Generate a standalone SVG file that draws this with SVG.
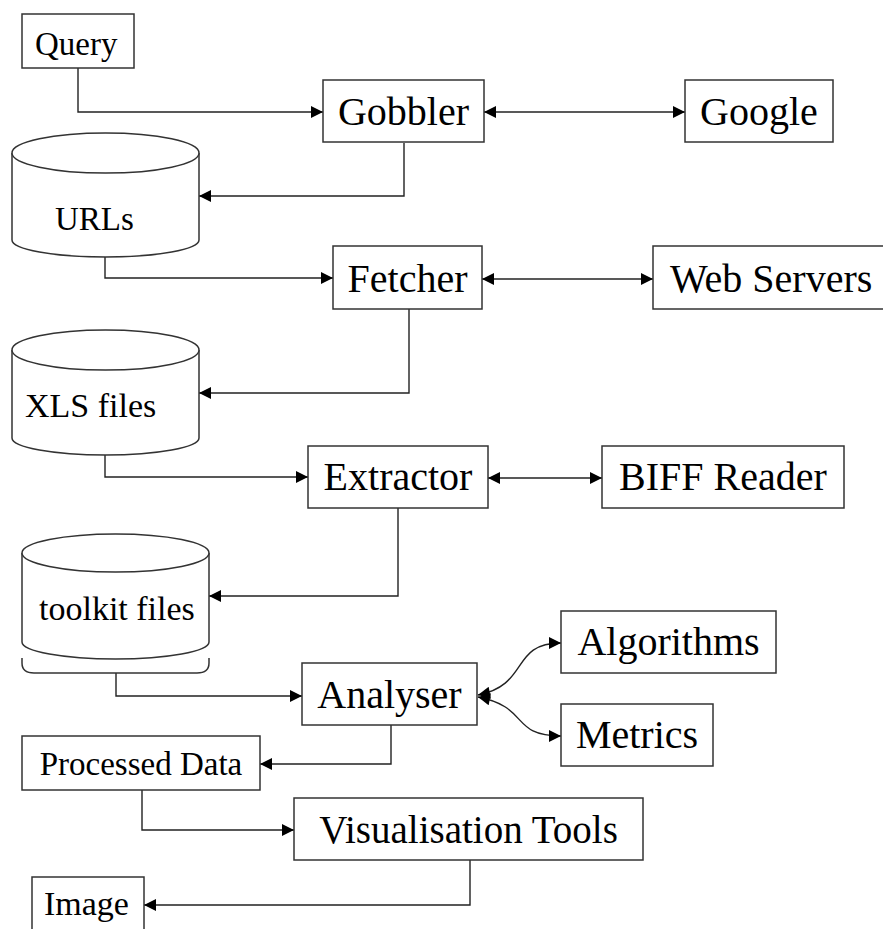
<svg xmlns="http://www.w3.org/2000/svg" width="883" height="929" viewBox="0 0 883 929">
<style>
.box{fill:#fff;stroke:#333;stroke-width:1.5}
.cyl{fill:#fff;stroke:#333;stroke-width:1.5}
.t{font-family:"Liberation Serif","Times New Roman",serif;fill:#000}
.big{font-size:40px;text-anchor:middle}
.sm{font-size:33px}
.c{fill:none;stroke:#222;stroke-width:1.4}
.e{marker-end:url(#ah)}
.s{marker-start:url(#ahs)}
</style>
<defs>
<marker id="ah" markerUnits="userSpaceOnUse" markerWidth="14" markerHeight="12" refX="12" refY="6" orient="auto">
<path d="M0,0 L12,6 L0,12 Z" fill="#000"/>
</marker>
<marker id="ahs" markerUnits="userSpaceOnUse" markerWidth="14" markerHeight="12" refX="0" refY="6" orient="auto">
<path d="M12,0 L0,6 L12,12 Z" fill="#000"/>
</marker>
</defs>
<rect width="883" height="929" fill="#fff"/>
<g id="connectors">
<path class="c e" d="M78,68 V112 H323"/>
<path class="c e s" d="M484,112 H685"/>
<path class="c e" d="M404,143 V196 H199"/>
<path class="c e" d="M105,257 V278 H333"/>
<path class="c e s" d="M482,279 H653"/>
<path class="c e" d="M409,309 V393 H199"/>
<path class="c e" d="M105,455 V477 H308"/>
<path class="c e s" d="M488,478 H602"/>
<path class="c e" d="M398,508 V596 H209"/>
<path class="c e" d="M116,673 V696 H302"/>
<path class="c e s" d="M478,695 C530,685 510,643 561,643"/>
<path class="c e s" d="M478,697 C530,707 510,736 561,736"/>
<path class="c e" d="M391,725 V764 H260"/>
<path class="c e" d="M142,790 V830 H294"/>
<path class="c e" d="M470,860 V905 H144"/>
</g>
<g id="query"><rect class="box" x="22" y="14" width="112" height="54"/><text class="t sm" x="35" y="55">Query</text></g>
<g id="gobbler"><rect class="box" x="323" y="80" width="161" height="62"/><text class="t big" x="403.5" y="125">Gobbler</text></g>
<g id="google"><rect class="box" x="685" y="80" width="148" height="62"/><text class="t big" x="759" y="125">Google</text></g>
<g id="urls">
<path class="cyl" d="M12,153 V240 A93.5,17 0 0 0 199,240 V153"/>
<ellipse class="cyl" cx="105.5" cy="153" rx="93.5" ry="20"/>
<text class="t sm" x="55" y="230">URLs</text>
</g>
<g id="fetcher"><rect class="box" x="333" y="246" width="149" height="63"/><text class="t big" x="407.5" y="292">Fetcher</text></g>
<g id="webservers"><rect class="box" x="653" y="246" width="240" height="63"/><text class="t" style="font-size:40px" x="670" y="292">Web Servers</text></g>
<g id="xls">
<path class="cyl" d="M12,350 V438 A93.5,17 0 0 0 199,438 V350"/>
<ellipse class="cyl" cx="105.5" cy="350" rx="93.5" ry="20"/>
<text class="t sm" style="font-size:34px" x="25" y="417">XLS files</text>
</g>
<g id="extractor"><rect class="box" x="308" y="446" width="180" height="62"/><text class="t big" x="398" y="490">Extractor</text></g>
<g id="biff"><rect class="box" x="602" y="446" width="242" height="62"/><text class="t big" x="723" y="490">BIFF Reader</text></g>
<g id="toolkit">
<path class="cyl" d="M22,553 V642 A93.5,17 0 0 0 209,642 V553"/>
<ellipse class="cyl" cx="115.5" cy="553" rx="93.5" ry="19"/>
<path class="c" style="stroke:#333;stroke-width:1.5" d="M22,658 V663 Q22,673 34,673 H197 Q209,673 209,663 V658"/>
<text class="t sm" style="font-size:34px" x="39" y="620">toolkit files</text>
</g>
<g id="analyser"><rect class="box" x="302" y="663" width="175" height="62"/><text class="t big" x="389.5" y="708">Analyser</text></g>
<g id="algorithms"><rect class="box" x="561" y="611" width="215" height="62"/><text class="t big" x="668.5" y="655">Algorithms</text></g>
<g id="metrics"><rect class="box" x="561" y="704" width="152" height="62"/><text class="t big" x="637" y="748">Metrics</text></g>
<g id="processed"><rect class="box" x="22" y="736" width="238" height="54"/><text class="t sm" style="text-anchor:middle" x="141" y="775">Processed Data</text></g>
<g id="visualisation"><rect class="box" x="294" y="798" width="349" height="62"/><text class="t big" style="font-size:39px" x="468.5" y="843">Visualisation Tools</text></g>
<g id="image"><rect class="box" x="32" y="877" width="112" height="60"/><text class="t sm" style="font-size:34px" x="44" y="915">Image</text></g>
</svg>
